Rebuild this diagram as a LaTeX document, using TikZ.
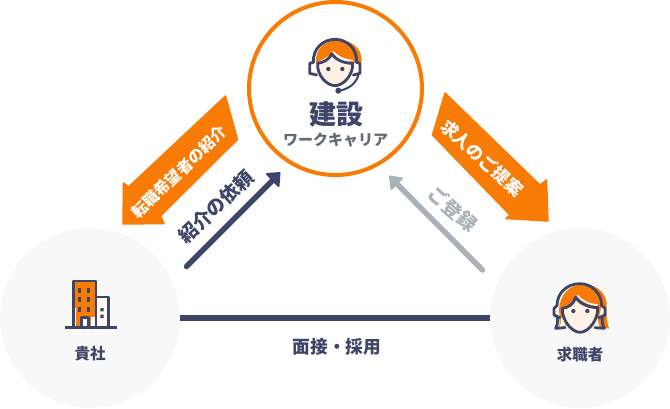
\documentclass[tikz,border=0pt]{standalone}
\usepackage{fontspec}
\setmainfont{Noto Sans CJK JP}
\usetikzlibrary{arrows.meta}
\definecolor{navy}{HTML}{3D4568}
\definecolor{org}{HTML}{F77B05}
\definecolor{pale}{HTML}{F8F8F8}
\definecolor{greyarrow}{HTML}{A9B2B7}
\definecolor{greytext}{HTML}{5F6C76}
\definecolor{skin}{HTML}{FFF1E6}
\tikzset{
  x=1pt,y=-1pt,
  party/.style={circle,fill=pale,minimum size=180pt,inner sep=0pt},
  hub/.style={circle,draw=org,fill=white,line width=4pt,minimum size=173pt,inner sep=0pt},
  lab/.style={inner sep=0pt,text=navy,font=\bfseries},
  bigarrow/.style={fill=org,draw=org,line width=1.5pt,line join=round},
  thinarrow/.style={line width=5.5pt,line cap=round,line join=round},
  headtip/.style={fill=#1,draw=#1,line width=2pt,line join=round},
  ln/.style={draw=navy,line width=2.8pt,line join=round,line cap=round},
  hl/.style={draw=white,line width=1.6pt,line cap=round},
  crop/.style={x=0.3333pt,y=-0.3333pt}
}
\begin{document}
\begin{tikzpicture}
\useasboundingbox (0,0) rectangle (670,408);
\node[party] (kisha) at (90,318) {};
\node[party] (kyu) at (580,318) {};
\node[hub] (hub) at (335.5,88.5) {};
% horizontal connector
\coordinate (la) at (180,318);
\coordinate (lb) at (490,318);
\draw[navy,line width=6pt] (la) -- (lb);
\node[lab,font=\bfseries\fontsize{17.7}{19}\selectfont] (mensetsu) at (337,347) {面接・採用};
% orange left
\path[bigarrow] (225.5,96) -- (237.5,139.5) -- (160.5,216) -- (164,223.5) -- (123,224) -- (123.5,183) -- (128.5,187) -- cycle;
\node[inner sep=0pt,text=white,rotate=44,font=\bfseries\fontsize{15.6}{17}\selectfont] (tenshoku) at (179,172) {転職希望者の紹介};
% orange right
\path[bigarrow] (445,93) -- (432.5,135) -- (510,215) -- (506,218.5) -- (548,221) -- (546.5,180) -- (540,185) -- cycle;
\node[inner sep=0pt,text=white,rotate=-42,font=\bfseries\fontsize{17.2}{19}\selectfont] (teian) at (482,158) {求人のご提案};
% dark arrow
\coordinate (da) at (186.5,266.5);
\coordinate (db) at (275,178);
\draw[navy,thinarrow] (da) -- (db);
\path[headtip=navy] (279.5,173) -- (267,174) -- (278.5,186) -- cycle;
\node[lab,rotate=43,font=\bfseries\fontsize{19}{21}\selectfont] (irai) at (216,207) {紹介の依頼};
% grey arrow
\coordinate (ga) at (482.5,270);
\coordinate (gb) at (394,181);
\draw[greyarrow,thinarrow] (ga) -- (gb);
\path[headtip=greyarrow] (390,176.5) -- (402,178.5) -- (391.5,189) -- cycle;
\node[inner sep=0pt,text=greyarrow,rotate=-42,font=\bfseries\fontsize{19}{21}\selectfont] (toroku) at (453,209) {ご登録};
% hub labels
\node[lab,font=\bfseries\fontsize{27}{29}\selectfont] (kensetsu) at (336.5,114) {建設};
\node[inner sep=0pt,text=greytext,font=\bfseries\fontsize{15}{17}\selectfont] (work) at (335.5,140) {ワークキャリア};
\node[lab,font=\bfseries\fontsize{15.5}{17}\selectfont] (kishal) at (90,354) {貴社};
\node[lab,font=\bfseries\fontsize{15.5}{17}\selectfont] (kyul) at (580,354.5) {求職者};
% operator icon
\begin{scope}[shift={(300,30)},crop]
\fill[org] (48,100) .. controls (45,55) and (75,30) .. (115,30) .. controls (155,30) and (187,55) .. (185,95) -- (160,100) -- (95,72) -- cycle;
\path[fill=skin] (53,100) .. controls (70,98) and (88,88) .. (95,72) .. controls (110,92) and (135,100) .. (158,100) .. controls (160,135) and (130,167) .. (105,167) .. controls (80,167) and (50,135) .. (53,100) -- cycle;
\draw[hl] (100,66) .. controls (112,80) and (132,90) .. (158,92);
\draw[ln] (53,100) .. controls (70,98) and (88,88) .. (95,72) .. controls (110,92) and (135,100) .. (158,100);
\draw[ln] (53,100) .. controls (50,135) and (80,167) .. (105,167) .. controls (130,167) and (160,135) .. (158,100);
\draw[ln] (40,98) .. controls (38,55) and (70,28) .. (105,28) .. controls (140,28) and (172,55) .. (170,98);
\draw[ln,fill=white] (40,97) -- (29,100) -- (29,130) -- (50,135);
\draw[ln,fill=white] (170,97) -- (180,100) -- (180,130) -- (160,135);
\draw[navy,line width=2pt] (176,132) .. controls (170,158) and (150,175) .. (120,182);
\fill[navy] (115,182) circle[radius=9];
\fill[navy] (85,117) circle[radius=6.5] (127,117) circle[radius=6.5];
\end{scope}
% building icon
\begin{scope}[shift={(60,275)},crop]
\fill[org] (44,20) rectangle (106,156);
\fill[white] (94,125) rectangle (104,156);
\fill[white] (44,100) rectangle (48,156);
\fill[skin!50!white] (110,68) rectangle (145,156);
\draw[ln,line cap=butt] (41,158) -- (41,18) -- (108,18) -- (108,158);
\draw[ln,line cap=butt] (108,66) -- (145,66) -- (145,158);
\fill[white] (66,128) rectangle (84,156);
\draw[ln,line cap=butt] (64,158) -- (64,128) -- (86,128) -- (86,158);
\draw[navy,line width=2.6pt] (15,158) -- (170,158);
\foreach \yy in {40,67,95}{
  \fill[navy] (55,\yy) rectangle (64,\yy+15);
  \fill[navy] (82,\yy) rectangle (91,\yy+15);
}
\fill[navy] (121,99) rectangle (131,109) (121,119) rectangle (131,129);
\end{scope}
% seeker icon
\begin{scope}[shift={(545,275)},crop]
\fill[org] (42,160) .. controls (48,130) and (38,110) .. (45,85) .. controls (55,45) and (85,28) .. (115,28) .. controls (160,28) and (190,60) .. (185,100) .. controls (183,125) and (187,145) .. (192,160) -- (165,160) -- (150,100) -- (60,100) -- (62,160) -- cycle;
\fill[white] (44,158) .. controls (50,140) and (48,130) .. (46,125) -- (58,135) -- (60,150) -- cycle;
\path[fill=skin] (52,100) .. controls (70,98) and (86,88) .. (92,67) .. controls (105,88) and (135,98) .. (158,98) .. controls (160,135) and (130,172) .. (105,172) .. controls (80,172) and (50,135) .. (52,100) -- cycle;
\draw[hl] (98,62) .. controls (110,78) and (132,88) .. (156,90);
\draw[ln] (52,100) .. controls (70,98) and (86,88) .. (92,67) .. controls (105,88) and (135,98) .. (158,98);
\draw[ln] (52,100) .. controls (50,135) and (80,172) .. (105,172) .. controls (130,172) and (160,135) .. (158,98);
\draw[ln] (36,92) .. controls (36,55) and (65,26) .. (105,26) .. controls (140,26) and (170,55) .. (170,92);
\draw[ln,fill=white] (36,92) -- (27,100) -- (27,120) -- (45,128);
\draw[ln,fill=white] (170,92) -- (180,100) -- (180,120) -- (162,128);
\draw[ln] (36,124) .. controls (40,135) and (38,148) .. (32,160) -- (60,158);
\draw[ln] (172,124) .. controls (170,135) and (172,148) .. (178,160) -- (150,158);
\fill[navy] (85,108) circle[radius=6.5] (127,108) circle[radius=6.5];
\end{scope}
\end{tikzpicture}
\end{document}
